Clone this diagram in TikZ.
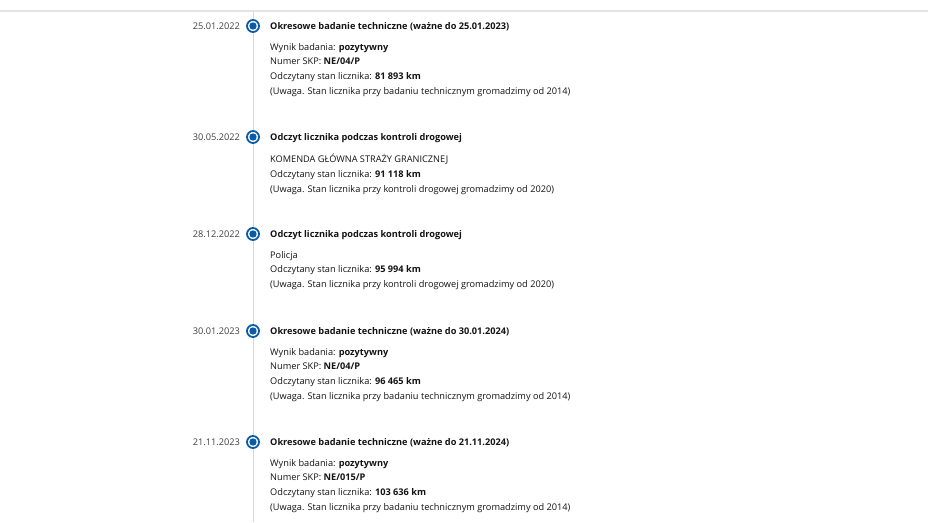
\documentclass[tikz,border=0pt]{standalone}
\usepackage{fontspec}
\setmainfont{Open Sans}
\usetikzlibrary{positioning}

\definecolor{dotblue}{HTML}{0B5AA8}
\definecolor{txt}{HTML}{141414}
\definecolor{datetxt}{HTML}{404040}
\definecolor{rulegray}{HTML}{D8D8D8}

\tikzset{
  dot/.style={circle,draw=dotblue,line width=1.8pt,fill=white,minimum size=12pt,inner sep=0pt,
    path picture={\fill[dotblue] (path picture bounding box.center) circle (3.7pt);}},
  datelbl/.style={inner sep=0pt,text=datetxt,font=\fontsize{9.2}{14.7}\selectfont},
  headlbl/.style={inner sep=0pt,anchor=base west,text=txt,font=\fontsize{9.2}{14.7}\selectfont\bfseries},
  infolbl/.style={inner sep=0pt,anchor=north west,align=left,text=txt,font=\fontsize{9.2}{14.7}\selectfont}
}

\begin{document}
\begin{tikzpicture}[x=1pt,y=-1pt]
\useasboundingbox (0,0) rectangle (928,522);
\fill[white] (0,0) rectangle (928,522);
\draw[rulegray!70,line width=1.5pt] (0,11) -- (928,11);
\draw[rulegray,line width=1pt] (253,11) -- (253,522);

% wpis 1
\node [dot] (Dot1) at (253,26) {};
\node [datelbl,left=6pt of Dot1] (Date1) {25.01.2022};
\node [headlbl] (Head1) at (270,29.5) {Okresowe badanie techniczne (ważne do 25.01.2023)};
\node [infolbl] (Info1) at (270,43) {Wynik badania: \textbf{pozytywny}\\Numer SKP: \textbf{NE/04/P}\\Odczytany stan licznika: \textbf{81 893 km}\\(Uwaga. Stan licznika przy badaniu technicznym gromadzimy od 2014)};

% wpis 2
\node [dot] (Dot2) at (253,137) {};
\node [datelbl,left=6pt of Dot2] (Date2) {30.05.2022};
\node [headlbl] (Head2) at (270,140.5) {Odczyt licznika podczas kontroli drogowej};
\node [infolbl] (Info2) at (270,154) {KOMENDA GŁÓWNA STRAŻY GRANICZNEJ\\Odczytany stan licznika: \textbf{91 118 km}\\(Uwaga. Stan licznika przy kontroli drogowej gromadzimy od 2020)};

% wpis 3
\node [dot] (Dot3) at (253,234) {};
\node [datelbl,left=6pt of Dot3] (Date3) {28.12.2022};
\node [headlbl] (Head3) at (270,237.5) {Odczyt licznika podczas kontroli drogowej};
\node [infolbl] (Info3) at (270,251) {Policja\\Odczytany stan licznika: \textbf{95 994 km}\\(Uwaga. Stan licznika przy kontroli drogowej gromadzimy od 2020)};

% wpis 4
\node [dot] (Dot4) at (253,331) {};
\node [datelbl,left=6pt of Dot4] (Date4) {30.01.2023};
\node [headlbl] (Head4) at (270,334.5) {Okresowe badanie techniczne (ważne do 30.01.2024)};
\node [infolbl] (Info4) at (270,348) {Wynik badania: \textbf{pozytywny}\\Numer SKP: \textbf{NE/04/P}\\Odczytany stan licznika: \textbf{96 465 km}\\(Uwaga. Stan licznika przy badaniu technicznym gromadzimy od 2014)};

% wpis 5
\node [dot] (Dot5) at (253,442) {};
\node [datelbl,left=6pt of Dot5] (Date5) {21.11.2023};
\node [headlbl] (Head5) at (270,445.5) {Okresowe badanie techniczne (ważne do 21.11.2024)};
\node [infolbl] (Info5) at (270,459) {Wynik badania: \textbf{pozytywny}\\Numer SKP: \textbf{NE/015/P}\\Odczytany stan licznika: \textbf{103 636 km}\\(Uwaga. Stan licznika przy badaniu technicznym gromadzimy od 2014)};
\end{tikzpicture}
\end{document}
